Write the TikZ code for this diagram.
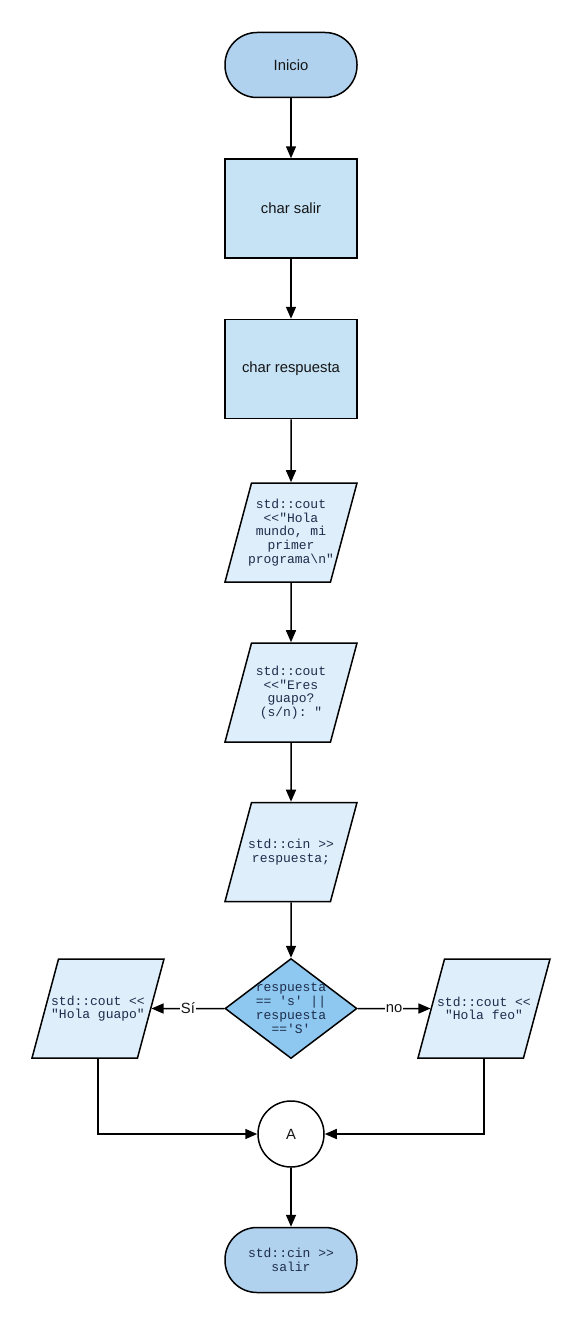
\documentclass[tikz,border=0pt]{standalone}
\usepackage{fontspec}
\setmainfont{Liberation Sans}
\setmonofont{Liberation Mono}
\usepackage{tikz}
\usetikzlibrary{shapes.geometric, arrows.meta, positioning}
\usepackage{xcolor}

\definecolor{termfill}{RGB}{176,210,238}
\definecolor{procfill}{RGB}{198,227,246}
\definecolor{iofill}{RGB}{222,238,250}
\definecolor{decfill}{RGB}{142,200,240}
\definecolor{codetext}{RGB}{30,45,75}
\definecolor{plaintext}{RGB}{20,20,20}

\tikzset{
    base/.style={draw, line width=1.5pt, text=plaintext, font=\fontsize{14.8}{17}\selectfont},
    code/.style={text=codetext, font=\ttfamily\fontsize{13}{13.6}\selectfont},
    term/.style={base, align=center, rectangle, rounded corners=32pt, minimum width=132pt, minimum height=65pt, fill=termfill},
    proc/.style={base, align=center, rectangle, minimum width=132pt, minimum height=99pt, fill=procfill},
    io/.style={base, code, trapezium, trapezium left angle=75, trapezium right angle=105, trapezium stretches body,
        minimum width=132pt, minimum height=99pt, inner xsep=-13pt, inner ysep=12pt, fill=iofill,
        execute at begin node={\begin{minipage}[c][75pt][c]{100pt}\centering},
        execute at end node={\end{minipage}}},
    dec/.style={base, code, diamond, aspect=1.32, minimum width=132pt, minimum height=100pt, inner sep=-6pt, fill=decfill,
        execute at begin node={\begin{minipage}[c][54pt][c]{84pt}\centering\baselineskip=14pt},
        execute at end node={\end{minipage}}},
    conn/.style={base, align=center, circle, minimum size=66pt, inner sep=0pt, fill=white},
    arr/.style={-{Triangle[length=12pt,width=10pt]}, line width=1.5pt},
    lbl/.style={fill=white, inner sep=1pt, text=plaintext, font=\fontsize{14.8}{17}\selectfont}
}

\begin{document}
\begin{tikzpicture}[x=1pt, y=-1pt]
        \useasboundingbox (0,0) rectangle (583,1327);

        %coordinates
        \coordinate (top)  at (291,65);
        \coordinate (mid)  at (291,1008.5);

        %nodes
        \node[term] (inicio) at (top) {Inicio};
        \node[proc] (salir) at (291,208.5) {char salir};
        \node[proc] (resp) at (291,369) {char respuesta};
        \node[io] (hola) at (291,532.5) {std::cout\\<<"Hola\\mundo, mi\\primer\\programa\textbackslash n"};
        \node[io] (guapo) at (291,692.5) {std::cout\\<<"Eres\\guapo?\\(s/n): "};
        \node[io] (cin) at (291,852) {std::cin >>\\respuesta;};
        \node[dec] (cond) at (mid) {respuesta\\== 's' ||\\respuesta\\=='S'};
        \node[io] (hg) at (98,1008.5) {std::cout <<\\"Hola guapo"};
        \node[io] (hf) at (484,1008.5) {std::cout <<\\"Hola feo"};
        \node[conn] (A) at (291,1134) {A};
        \node[term, code] (fin) at (291,1260) {std::cin >>\\salir};

        %edges
        \draw[arr] (inicio) -- (salir);
        \draw[arr] (salir) -- (resp);
        \draw[arr] (resp) -- (hola);
        \draw[arr] (hola) -- (guapo);
        \draw[arr] (guapo) -- (cin);
        \draw[arr] (cin) -- (cond);
        \draw[arr] (cond) -- node[lbl]{Sí} (hg);
        \draw[arr] (cond) -- node[lbl]{no} (hf);
        \draw[arr] (hg) |- (A);
        \draw[arr] (hf) |- (A);
        \draw[arr] (A) -- (fin);
\end{tikzpicture}
\end{document}
